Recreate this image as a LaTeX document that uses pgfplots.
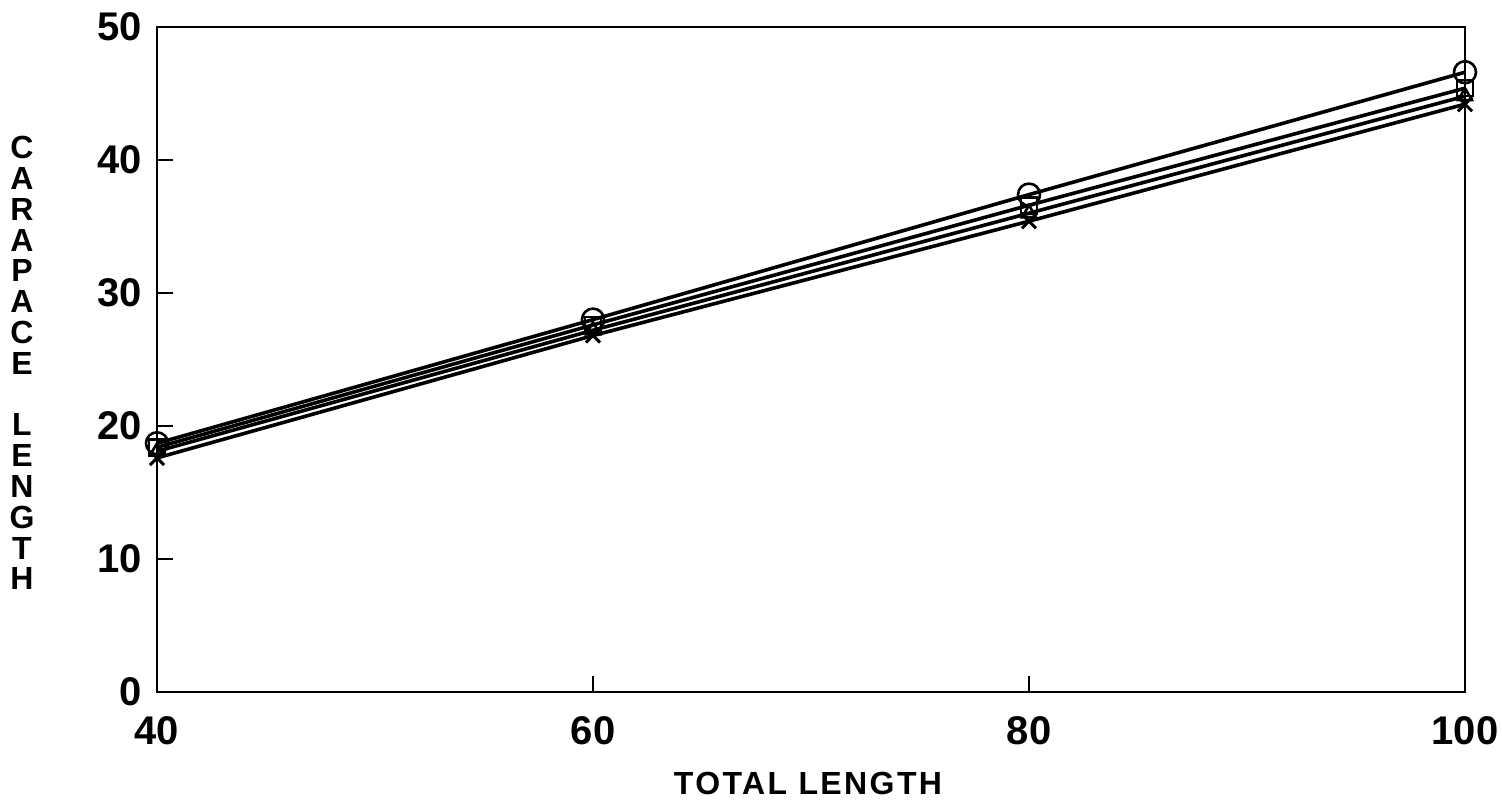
\documentclass[border=0pt]{standalone}
\usepackage{fontspec}
\setmainfont{Liberation Sans}
\usepackage{pgfplots}
\pgfplotsset{compat=1.18}
\begin{document}
\begin{tikzpicture}[x=1pt,y=1pt]
\path[use as bounding box] (0,0) rectangle (751,400);
\begin{axis}[
  at={(78.5pt,54pt)}, anchor=south west,
  scale only axis, width=654pt, height=332.5pt,
  xmin=40, xmax=100, ymin=0, ymax=50,
  xtick={40,60,80,100}, ytick={0,10,20,30,40,50},
  axis line style={line width=1pt},
  tick style={line width=1pt, black},
  tick align=inside, major tick length=8pt,
  xtick pos=bottom, ytick pos=left,
  /pgf/number format/assume math mode=true,
  tick label style={font=\fontsize{20}{20}\selectfont\bfseries},
  xticklabel style={yshift=-8.5pt},
  yticklabel style={xshift=-4pt},
  clip=false,
]
\addplot[black, line width=1.8pt, mark=o, mark size=5.5pt, mark options={line width=1.3pt}] coordinates {(40,18.7) (60,28.0) (80,37.4) (100,46.6)};
\addplot[black, line width=1.8pt, mark=square, mark size=4pt, mark options={line width=1.3pt}] coordinates {(40,18.4) (60,27.6) (80,36.6) (100,45.4)};
\addplot[black, line width=1.8pt, mark=triangle, mark size=4pt, mark options={line width=1.3pt}] coordinates {(40,18.1) (60,27.2) (80,36.0) (100,44.8)};
\addplot[black, line width=1.8pt, mark=x, mark size=5pt, mark options={line width=1.5pt}] coordinates {(40,17.6) (60,26.8) (80,35.4) (100,44.2)};
\end{axis}
\node[font=\fontsize{16}{16}\selectfont\bfseries\addfontfeatures{LetterSpace=7.5}] at (404,8.5) {TOTAL LENGTH};
\node[font=\fontsize{16}{16}\selectfont\bfseries, align=center, inner sep=0pt, anchor=north] at (11,332) {C\\[-0.6pt]A\\[-0.6pt]R\\[-0.6pt]A\\[-0.6pt]P\\[-0.6pt]A\\[-0.6pt]C\\[-0.6pt]E\\[-0.6pt]\strut\\[-0.6pt]L\\[-0.6pt]E\\[-0.6pt]N\\[-0.6pt]G\\[-0.6pt]T\\[-0.6pt]H};
\end{tikzpicture}
\end{document}
